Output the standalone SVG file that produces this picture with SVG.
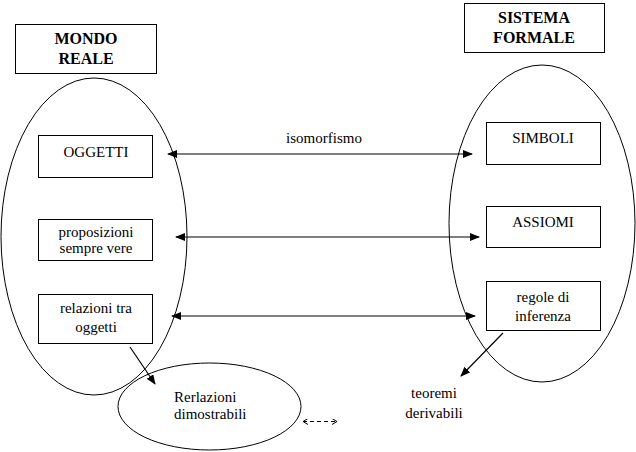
<svg xmlns="http://www.w3.org/2000/svg" width="636" height="452" viewBox="0 0 636 452" font-family="'Liberation Serif', 'DejaVu Serif', serif">
<style>
.box{fill:#fff;stroke:#000;stroke-width:1}
.ell{fill:none;stroke:#000;stroke-width:1}
text{font-family:'Liberation Serif','DejaVu Serif',serif;font-size:15px;fill:#000}
.t{text-anchor:middle}
.b{font-weight:bold;font-size:16px}
.ln{stroke:#000;stroke-width:1.2;fill:none}
.dash{stroke:#000;stroke-width:1;stroke-dasharray:4 3;fill:none}
</style>
<defs>
<marker id="ah" markerWidth="10" markerHeight="8" refX="9" refY="4" orient="auto-start-reverse" markerUnits="userSpaceOnUse">
<path d="M0,0 L10,4 L0,8 Z" fill="#000"/>
</marker>
<marker id="oh" markerWidth="6" markerHeight="6" refX="5" refY="3" orient="auto-start-reverse" markerUnits="userSpaceOnUse">
<path d="M0,0 L5,3 L0,6" fill="none" stroke="#000" stroke-width="1"/>
</marker>
</defs>
<rect width="636" height="452" fill="#fff"/>
<g id="mondo-reale">
<ellipse class="ell" cx="94" cy="236.5" rx="93" ry="158.5"/>
<rect class="box" x="15.5" y="24.5" width="141" height="49"/>
<text class="t b" x="86" y="44">MONDO</text>
<text class="t b" x="86" y="64">REALE</text>
</g>
<g id="sistema-formale">
<ellipse class="ell" cx="542" cy="223.5" rx="93" ry="158.5"/>
<rect class="box" x="464.5" y="3.5" width="140" height="49"/>
<text class="t b" x="534" y="23">SISTEMA</text>
<text class="t b" x="534" y="43">FORMALE</text>
</g>
<g id="oggetti">
<rect class="box" x="38.5" y="135.5" width="114" height="42"/>
<text class="t" x="96" y="157">OGGETTI</text>
</g>
<g id="proposizioni">
<rect class="box" x="38.5" y="219.5" width="114" height="41"/>
<text class="t" x="96" y="237">proposizioni</text>
<text class="t" x="96" y="253">sempre vere</text>
</g>
<g id="relazioni">
<rect class="box" x="38.5" y="294.5" width="114" height="49"/>
<text class="t" x="96" y="313">relazioni tra</text>
<text class="t" x="96" y="332">oggetti</text>
</g>
<g id="relazioni-dimostrabili">
<ellipse class="ell" cx="209.5" cy="406.5" rx="91.5" ry="43.5"/>
<text x="174" y="402">Rerlazioni</text>
<text x="174" y="419">dimostrabili</text>
</g>
<g id="simboli">
<rect class="box" x="486.5" y="122.5" width="114" height="42"/>
<text class="t" x="543" y="143">SIMBOLI</text>
</g>
<g id="assiomi">
<rect class="box" x="486.5" y="206.5" width="114" height="41"/>
<text class="t" x="543" y="227">ASSIOMI</text>
</g>
<g id="regole">
<rect class="box" x="486.5" y="281.5" width="114" height="49"/>
<text class="t" x="543" y="302">regole di</text>
<text class="t" x="543" y="321">inferenza</text>
</g>
<g id="teoremi">
<text class="t" x="434" y="398">teoremi</text>
<text class="t" x="434" y="418">derivabili</text>
</g>
<g id="connectors">
<line class="ln" x1="168" y1="154" x2="472" y2="154" marker-start="url(#ah)" marker-end="url(#ah)"/>
<text class="t" x="324" y="143">isomorfismo</text>
<line class="ln" x1="176" y1="237" x2="479" y2="237" marker-start="url(#ah)" marker-end="url(#ah)"/>
<line class="ln" x1="172" y1="316" x2="475" y2="316" marker-start="url(#ah)" marker-end="url(#ah)"/>
<line class="ln" x1="130" y1="347" x2="155" y2="384" marker-end="url(#ah)"/>
<line class="ln" x1="503" y1="333" x2="461" y2="376" marker-end="url(#ah)"/>
<line class="dash" x1="303" y1="421.5" x2="337" y2="421.5" marker-start="url(#oh)" marker-end="url(#oh)"/>
</g>
</svg>
